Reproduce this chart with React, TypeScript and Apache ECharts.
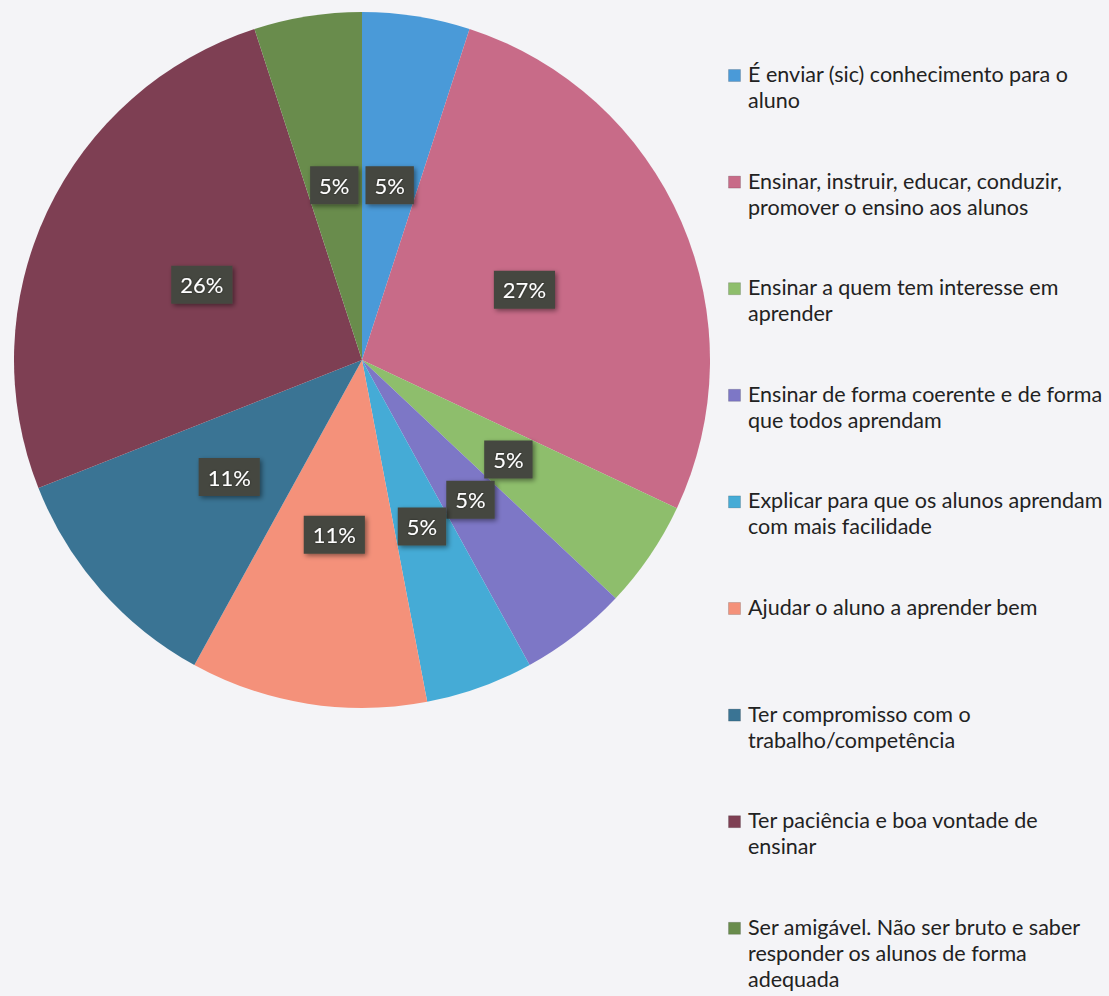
import React, { useEffect, useRef } from "react";
import * as echarts from "echarts";

const categories = [
  "É enviar (sic) conhecimento para o\naluno",
  "Ensinar, instruir, educar, conduzir,\npromover o ensino aos alunos",
  "Ensinar a quem tem interesse em\naprender",
  "Ensinar de forma coerente e de forma\nque todos aprendam",
  "Explicar para que os alunos aprendam\ncom mais facilidade",
  "Ajudar o aluno a aprender bem",
  "Ter compromisso com o\ntrabalho/competência",
  "Ter paciência e boa vontade de\nensinar",
  "Ser amigável. Não ser bruto e saber\nresponder os alunos de forma\nadequada",
];
const values = [5, 27, 5, 5, 5, 11, 11, 26, 5];
const colors = [
  "#4a9ad8",
  "#c86b88",
  "#8ebe6c",
  "#7d77c6",
  "#45abd6",
  "#f4917a",
  "#3a7494",
  "#7e3f53",
  "#698c4c",
];

const FONT = "Lato, 'Liberation Sans', sans-serif";

export default function App() {
  const ref = useRef<HTMLDivElement>(null);
  useEffect(() => {
    document.body.style.margin = "0";
    const chart = echarts.init(ref.current!, null, { renderer: "svg" });
    const legendTop = 75;
    const legendStep = 106.6;
    const legendGraphics: any[] = [];
    categories.forEach((c, i) => {
      const cy = legendTop + i * legendStep;
      legendGraphics.push({
        type: "rect",
        left: 728,
        top: cy - 6,
        shape: { width: 12, height: 12 },
        style: { fill: colors[i], stroke: "rgba(0,0,0,0.15)", lineWidth: 1 },
      });
      legendGraphics.push({
        type: "text",
        left: 748,
        top: cy - 14,
        style: {
          text: c,
          fill: "#222",
          font: `21.5px ${FONT}`,
          lineHeight: 26,
        },
      });
    });
    chart.setOption({
      animation: false,
      backgroundColor: "#f4f4f7",
      graphic: legendGraphics,
      series: [
        {
          type: "pie",
          center: [362, 360],
          radius: 348,
          startAngle: 90,
          clockwise: true,
          data: categories.map((c, i) => ({
            name: c,
            value: values[i],
            itemStyle: { color: colors[i] },
          })),
          label: {
            show: true,
            position: "inside",
            formatter: (p: any) => `${p.value}%`,
            color: "#fff",
            fontFamily: FONT,
            fontSize: 22,
            backgroundColor: "#44473f",
            padding: [9, 9, 7, 9],
            shadowColor: "rgba(0,0,0,0.45)",
            shadowBlur: 5,
            shadowOffsetX: 2,
            shadowOffsetY: 2,
            textShadowColor: "rgba(0,0,0,0.5)",
            textShadowBlur: 2,
          },
          labelLine: { show: false },
          emphasis: { disabled: true },
        },
      ],
    });
    return () => chart.dispose();
  }, []);
  return <div ref={ref} style={{ width: 1109, height: 996 }} />;
}
